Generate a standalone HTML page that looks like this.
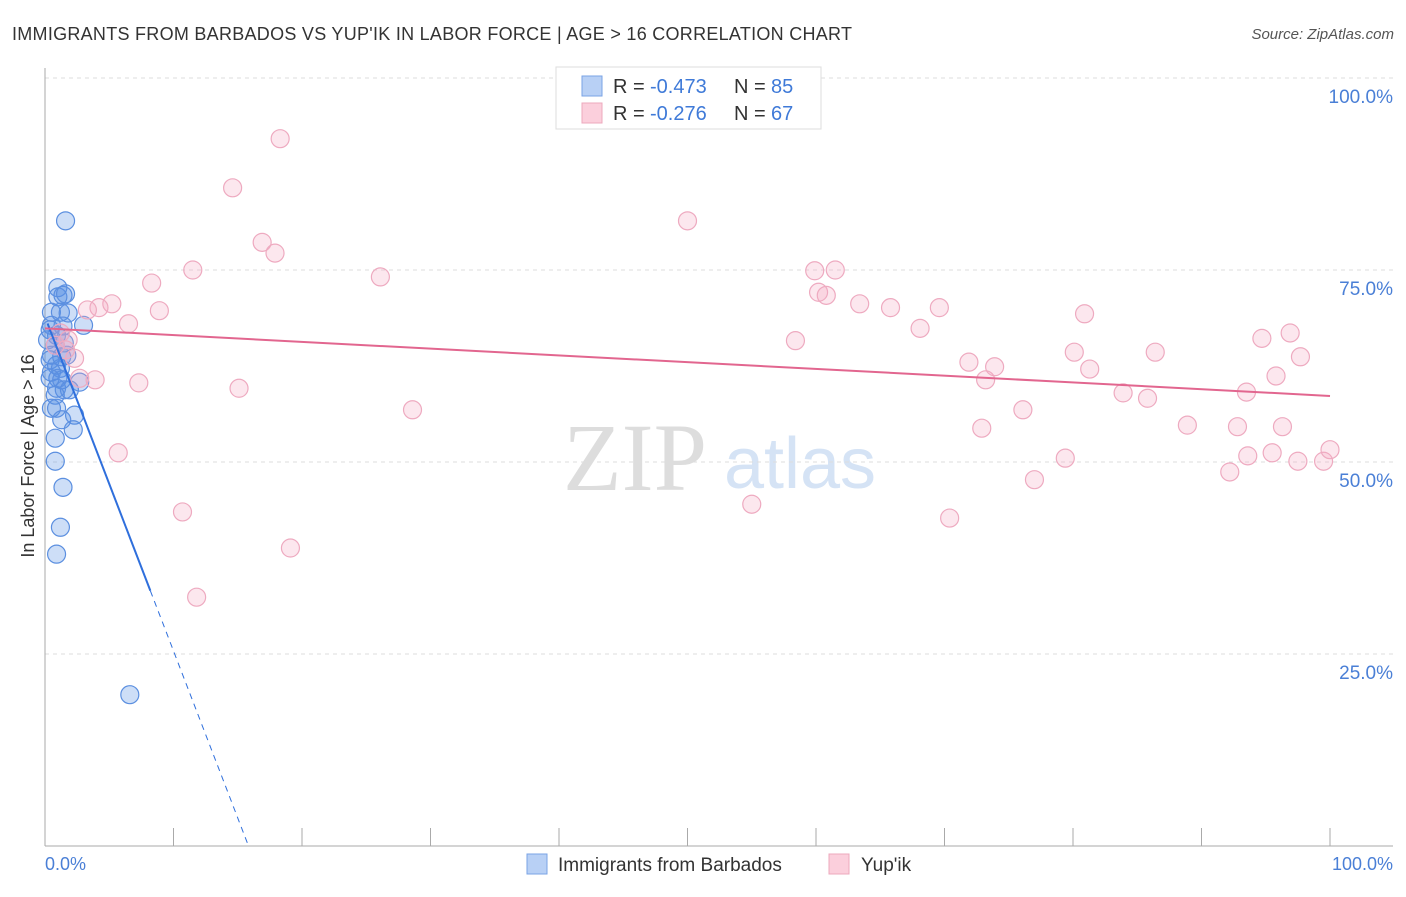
<!DOCTYPE html>
<html><head><meta charset="utf-8"><style>
body{margin:0;background:#fff;font-family:"Liberation Sans",sans-serif}
</style></head><body>
<svg id="c" width="1406" height="892" xmlns="http://www.w3.org/2000/svg">
<text x="12" y="40" font-size="18" fill="#333" textLength="840">IMMIGRANTS FROM BARBADOS VS YUP'IK IN LABOR FORCE | AGE &gt; 16 CORRELATION CHART</text>
<text x="1394" y="39" font-size="15" fill="#555" font-style="italic" text-anchor="end">Source: ZipAtlas.com</text>
<g><text x="635" y="490" font-size="96" fill="#ddd" font-family="Liberation Serif" text-anchor="middle">ZIP</text><text x="800" y="488" font-size="72" fill="#d5e3f5" text-anchor="middle">atlas</text></g>
<g id="grid"></g><g id="pts"></g><g id="lines"></g>
<text transform="translate(34,456) rotate(-90)" font-size="18" fill="#333" text-anchor="middle">In Labor Force | Age &gt; 16</text>
<text x="45" y="870" font-size="18" fill="#4a7fd6">0.0%</text>
<text x="1393" y="870" font-size="18" fill="#4a7fd6" text-anchor="end">100.0%</text>
<g font-size="20">
<rect x="556" y="67" width="265" height="62" fill="#fff" stroke="#ddd"/>
<rect x="582" y="76" width="20" height="20" fill="#b8d0f5" stroke="#7aa3e5"/>
<text x="613" y="93" fill="#333">R =</text><text x="650" y="93" fill="#3f7ad8">-0.473</text>
<text x="734" y="93" fill="#333">N =</text><text x="771" y="93" fill="#3f7ad8">85</text>
<rect x="582" y="103" width="20" height="20" fill="#fbcfdc" stroke="#eca8bd"/>
<text x="613" y="120" fill="#333">R =</text><text x="650" y="120" fill="#3f7ad8">-0.276</text>
<text x="734" y="120" fill="#333">N =</text><text x="771" y="120" fill="#3f7ad8">67</text>
</g>
<g>
<rect x="527" y="854" width="20" height="20" fill="#b8d0f5" stroke="#7aa3e5"/>
<text x="558" y="871" font-size="19" fill="#333">Immigrants from Barbados</text>
<rect x="829" y="854" width="20" height="20" fill="#fbcfdc" stroke="#eca8bd"/>
<text x="861" y="871" font-size="19" fill="#333">Yup'ik</text>
</g>
</svg>
<script>
const yTicks=[25,50,75,100];
const blueX=[1.6,1.0,1.4,1.0,1.6,0.5,1.2,1.8,0.5,1.4,3.0,0.4,0.9,0.2,0.8,1.5,0.5,1.3,1.7,0.4,0.9,1.2,0.5,1.0,0.4,1.3,2.7,0.9,1.5,1.9,0.8,0.5,0.9,2.3,1.3,2.2,0.8,0.8,1.4,1.2,0.9,6.6];
const blueY=[81.4,72.7,71.7,71.5,71.9,69.5,69.5,69.4,67.8,67.7,67.8,67.2,66.5,65.9,65.2,65.5,63.9,63.7,63.9,63.3,62.6,62.2,61.7,60.9,60.9,60.7,60.4,59.6,59.4,59.4,58.7,57.0,57.0,56.1,55.5,54.2,53.1,50.1,46.7,41.5,38.0,19.7];
const pinkX=[41.5,18.3,14.6,50.0,16.9,17.9,11.5,8.3,26.1,59.9,61.5,60.2,60.8,63.4,65.8,69.6,68.1,58.4,71.9,73.2,73.9,76.1,72.9,77.0,70.4,79.4,80.1,80.9,81.3,83.9,85.8,86.4,88.9,92.2,92.8,93.5,93.6,94.7,95.5,95.8,96.3,96.9,97.5,97.7,99.5,100,55.0,28.6,15.1,8.9,6.5,5.2,4.2,3.3,7.3,3.9,2.7,5.7,10.7,11.8,19.1,2.3,1.8,1.6,1.2,0.8];
const pinkY=[100,92.1,85.7,81.4,78.6,77.2,75.0,73.3,74.1,74.9,75.0,72.1,71.7,70.6,70.1,70.1,67.4,65.8,63.0,60.7,62.4,56.8,54.4,47.7,42.7,50.5,64.3,69.3,62.1,59.0,58.3,64.3,54.8,48.7,54.6,59.1,50.8,66.1,51.2,61.2,54.6,66.8,50.1,63.7,50.1,51.6,44.5,56.8,59.6,69.7,68.0,70.6,70.1,69.8,60.3,60.7,60.9,51.2,43.5,32.4,38.8,63.5,65.9,64.6,66.8,65.2];
const blueFit=[68.9,-4.35];
const pinkFit=[67.4,-0.088];
const X=v=>45+v*12.85, Y=v=>846-v*7.68;
const NS='http://www.w3.org/2000/svg';
function mk(t,a,p){const e=document.createElementNS(NS,t);for(const k in a)e.setAttribute(k,a[k]);p.appendChild(e);return e;}
const g=document.getElementById('grid');
yTicks.forEach(t=>{
 const l=mk('line',{x1:45,x2:1393,y1:Y(t),y2:Y(t),stroke:'#ddd','stroke-dasharray':'4,4'},g);
 
 
 const tx=mk('text',{x:1393,y:Y(t)+25,'font-size':19,fill:'#4a7fd6','text-anchor':'end'},g);
 tx.textContent=t.toFixed(1)+'%';
 
 
});
mk('line',{x1:45,x2:45,y1:68,y2:846,stroke:'#aaa'},g);
mk('line',{x1:45,x2:1393,y1:846,y2:846,stroke:'#aaa'},g);
for(let i=1;i<=10;i++){const t=mk('line',{x1:X(i*10),x2:X(i*10),y1:828,y2:846,stroke:'#aaa'},g);
 
 }
const p=document.getElementById('pts');
blueX.forEach((x,i)=>{const c=mk('circle',{cx:X(x),cy:Y(blueY[i]),r:9,fill:'rgba(90,145,230,0.3)',stroke:'#5b8fe0','stroke-width':1.2},p);
 
 });
pinkX.forEach((x,i)=>{const c=mk('circle',{cx:X(x),cy:Y(pinkY[i]),r:9,fill:'rgba(245,170,195,0.28)',stroke:'#eeaac0','stroke-width':1.2},p);
 
 });
const L=document.getElementById('lines');
const bf=x=>blueFit[0]+blueFit[1]*x, pf=x=>pinkFit[0]+pinkFit[1]*x;
const xEnd=(blueFit[0]-(-0.1))/-blueFit[1];
let a=mk('line',{x1:X(0.2),y1:Y(bf(0.2)),x2:X(8.2),y2:Y(bf(8.2)),stroke:'#2f6fdc','stroke-width':2},L);


a=mk('line',{x1:X(8.2),y1:Y(bf(8.2)),x2:X(xEnd),y2:Y(bf(xEnd)),stroke:'#2f6fdc','stroke-width':1,'stroke-dasharray':'6,5'},L);


a=mk('line',{x1:X(0),y1:Y(pf(0)),x2:X(100),y2:Y(pf(100)),stroke:'#e2668f','stroke-width':2},L);


</script>
</body></html>
